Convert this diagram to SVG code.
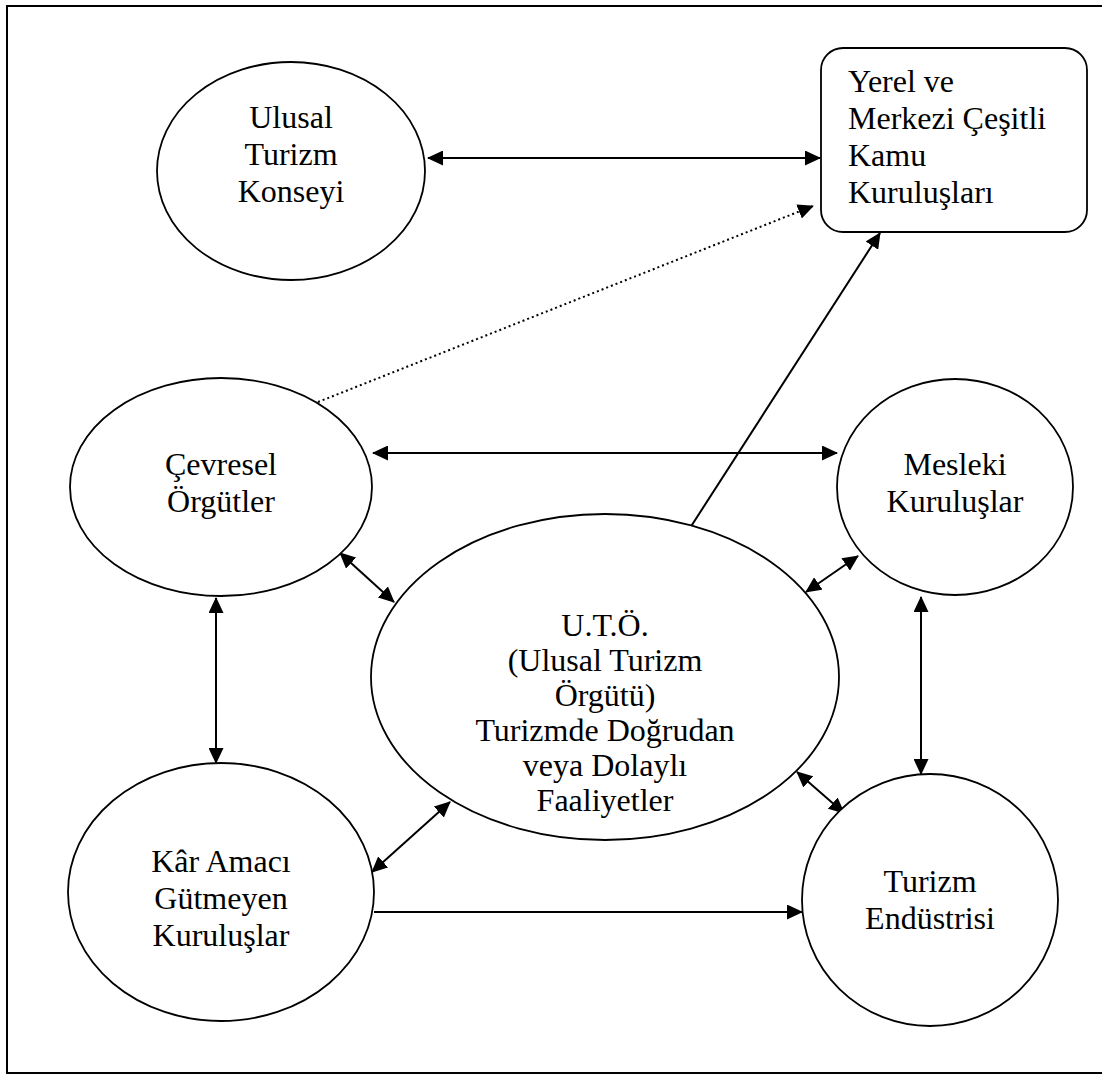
<svg xmlns="http://www.w3.org/2000/svg" width="1102" height="1075" viewBox="0 0 1102 1075">
  <defs>
    <marker id="arrow" viewBox="0 0 16 15" refX="15" refY="7.5" markerWidth="16" markerHeight="15" markerUnits="userSpaceOnUse" orient="auto-start-reverse">
      <path d="M0,0 L16,7.5 L0,15 z" fill="#000"/>
    </marker>
  </defs>
  <style>
    .node { fill: #fff; stroke: #000; stroke-width: 1.8; }
    .label { font-family: "Liberation Serif", "Times New Roman", serif; font-size: 32px; fill: #000; }
    .mid { text-anchor: middle; }
    .link { fill: none; stroke: #000; stroke-width: 2; }
    .both { marker-start: url(#arrow); marker-end: url(#arrow); }
    .one { marker-end: url(#arrow); }
    .dotted { stroke-dasharray: 2 3; }
  </style>

  <rect width="1102" height="1075" fill="#fff"/>
  <!-- page frame (open on the right) -->
  <path d="M1102,6 H7 V1073 H1102" fill="none" stroke="#000" stroke-width="2"/>

  <g id="connectors">
    <line class="link both" x1="428" y1="158" x2="820" y2="158"/>
    <line class="link one dotted" x1="318" y1="402" x2="813" y2="206"/>
    <line class="link one" x1="690" y1="528" x2="880" y2="233"/>
    <line class="link both" x1="373" y1="453" x2="837" y2="453"/>
    <line class="link both" x1="340" y1="553" x2="394" y2="602"/>
    <line class="link both" x1="858" y1="556" x2="806" y2="592"/>
    <line class="link both" x1="216" y1="598" x2="216" y2="763"/>
    <line class="link both" x1="921" y1="597" x2="921" y2="774"/>
    <line class="link both" x1="450" y1="802" x2="372" y2="872"/>
    <line class="link both" x1="797" y1="772" x2="844" y2="813"/>
    <line class="link one" x1="374" y1="912" x2="802" y2="912"/>
  </g>

  <g id="ulusal-turizm-konseyi">
    <ellipse class="node" cx="291" cy="171" rx="134" ry="109"/>
    <text class="label mid" x="291" y="128">Ulusal</text>
    <text class="label mid" x="291" y="165">Turizm</text>
    <text class="label mid" x="291" y="202">Konseyi</text>
  </g>

  <g id="kamu-kuruluslari">
    <rect class="node" x="821" y="48" width="266" height="184" rx="22"/>
    <text class="label" x="848" y="92">Yerel ve</text>
    <text class="label" x="848" y="129">Merkezi Çeşitli</text>
    <text class="label" x="848" y="166">Kamu</text>
    <text class="label" x="848" y="203">Kuruluşları</text>
  </g>

  <g id="cevresel-orgutler">
    <ellipse class="node" cx="221" cy="487" rx="151" ry="109"/>
    <text class="label mid" x="221" y="475">Çevresel</text>
    <text class="label mid" x="221" y="512">Örgütler</text>
  </g>

  <g id="mesleki-kuruluslar">
    <ellipse class="node" cx="955" cy="487" rx="118" ry="108"/>
    <text class="label mid" x="955" y="475">Mesleki</text>
    <text class="label mid" x="955" y="512">Kuruluşlar</text>
  </g>

  <g id="uto">
    <ellipse class="node" cx="605" cy="677" rx="234" ry="163"/>
    <text class="label mid" x="605" y="636">U.T.Ö.</text>
    <text class="label mid" x="605" y="671">(Ulusal Turizm</text>
    <text class="label mid" x="605" y="706">Örgütü)</text>
    <text class="label mid" x="605" y="741">Turizmde Doğrudan</text>
    <text class="label mid" x="605" y="776">veya Dolaylı</text>
    <text class="label mid" x="605" y="811">Faaliyetler</text>
  </g>

  <g id="kar-amaci-gutmeyen">
    <ellipse class="node" cx="221" cy="892" rx="153" ry="129"/>
    <text class="label mid" x="221" y="872">Kâr Amacı</text>
    <text class="label mid" x="221" y="909">Gütmeyen</text>
    <text class="label mid" x="221" y="946">Kuruluşlar</text>
  </g>

  <g id="turizm-endustrisi">
    <ellipse class="node" cx="930" cy="900" rx="128" ry="126"/>
    <text class="label mid" x="930" y="892">Turizm</text>
    <text class="label mid" x="930" y="929">Endüstrisi</text>
  </g>
</svg>
